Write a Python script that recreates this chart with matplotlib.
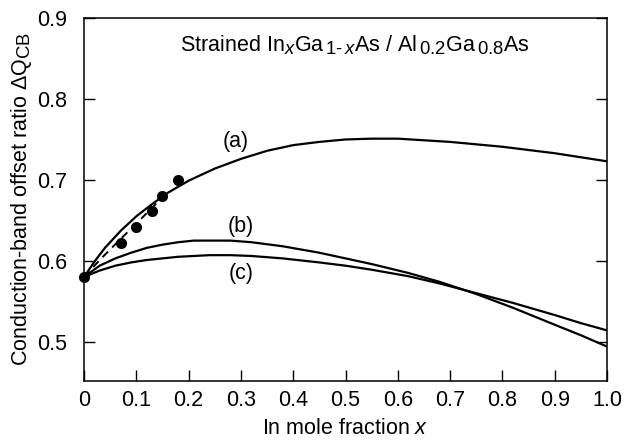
import matplotlib
matplotlib.use("Agg")
import matplotlib.pyplot as plt
import matplotlib._mathtext as mt

plt.rcParams['font.family'] = ['Liberation Sans', 'DejaVu Sans']
plt.rcParams['mathtext.fontset'] = 'custom'
plt.rcParams['mathtext.rm'] = 'Liberation Sans'
plt.rcParams['mathtext.it'] = 'Liberation Sans:italic'
# indices un peu plus gros, comme sur la figure d'origine
mt.SHRINK_FACTOR = 0.86

# courbe (a)
xa = [0, 0.02, 0.04, 0.07, 0.10, 0.13, 0.16, 0.20, 0.25, 0.30, 0.35, 0.40, 0.45, 0.50, 0.55, 0.60,
      0.65, 0.70, 0.75, 0.80, 0.85, 0.90, 0.95, 1.0]
ya = [0.58, 0.599, 0.616, 0.637, 0.655, 0.670, 0.684, 0.699, 0.714, 0.726, 0.736, 0.743, 0.747, 0.750,
      0.751, 0.751, 0.749, 0.747, 0.744, 0.741, 0.737, 0.733, 0.728, 0.723]

# courbe (b)
xb = [0, 0.03, 0.06, 0.09, 0.12, 0.15, 0.18, 0.21, 0.24, 0.28, 0.32, 0.38, 0.45, 0.50, 0.55, 0.62,
      0.68, 0.75, 0.82, 0.90, 0.95, 1.0]
yb = [0.58, 0.594, 0.603, 0.610, 0.616, 0.620, 0.623, 0.625, 0.625, 0.625, 0.623, 0.618, 0.610, 0.603,
      0.596, 0.585, 0.574, 0.559, 0.542, 0.521, 0.508, 0.494]

# courbe (c)
xc = [0, 0.03, 0.06, 0.09, 0.12, 0.15, 0.18, 0.21, 0.24, 0.28, 0.32, 0.38, 0.45, 0.50, 0.55, 0.62,
      0.68, 0.75, 0.82, 0.90, 0.95, 1.0]
yc = [0.58, 0.588, 0.594, 0.598, 0.601, 0.603, 0.605, 0.606, 0.607, 0.607, 0.606, 0.603, 0.598, 0.594,
      0.589, 0.581, 0.572, 0.560, 0.548, 0.533, 0.523, 0.514]

# ajustement en pointillés
xd = [0, 0.03, 0.07, 0.10, 0.14]
yd = [0.58, 0.601, 0.627, 0.646, 0.672]

# points expérimentaux
xp = [0, 0.07, 0.10, 0.13, 0.15, 0.18]
yp = [0.58, 0.622, 0.642, 0.661, 0.68, 0.70]

xticks = [0, 0.1, 0.2, 0.3, 0.4, 0.5, 0.6, 0.7, 0.8, 0.9, 1.0]
xticklabels = ["0", "0.1", "0.2", "0.3", "0.4", "0.5", "0.6", "0.7", "0.8", "0.9", "1.0"]
yticks = [0.5, 0.6, 0.7, 0.8, 0.9]
yticklabels = ["0.5", "0.6", "0.7", "0.8", "0.9"]

fig = plt.figure(figsize=(6.24, 4.42), dpi=100)
ax = fig.add_axes([0.1346, 0.139, 0.8382, 0.820])

lw = 1.6
ax.plot(xa, ya, color='black', lw=lw)
ax.plot(xb, yb, color='black', lw=lw)
ax.plot(xc, yc, color='black', lw=lw)
ax.plot(xd, yd, color='black', lw=1.4, ls=(0, (4, 3)))
ax.plot(xp, yp, 'o', color='black', ms=7, clip_on=False, zorder=5)

fs = 15.5
ax.text(0.29, 0.748, "(a)", fontsize=fs, ha='center', va='center')
ax.text(0.30, 0.642, "(b)", fontsize=fs, ha='center', va='center')
ax.text(0.30, 0.584, "(c)", fontsize=fs, ha='center', va='center')
ax.text(0.518, 0.867,
        r"Strained In$_{\mathit{x}}$Ga$_{\,\mathit{1\text{-}\,x}}$As / Al$_{\,0.2}$Ga$_{\,0.8}$As",
        fontsize=fs, ha='center', va='center')

ax.set_xlim(0, 1.0)
ax.set_ylim(0.452, 0.9)
ax.set_xticks(xticks)
ax.set_xticklabels(xticklabels)
ax.set_yticks(yticks)
ax.set_yticklabels(yticklabels)
ax.tick_params(direction='in', length=8, width=1, labelsize=fs, right=True, top=False)
ax.tick_params(axis='x', pad=7)
ax.tick_params(axis='y', pad=12)
for s in ax.spines.values():
    s.set_linewidth(1.1)

ax.set_xlabel(r"In mole fraction $\mathit{x}$", fontsize=fs, labelpad=5)
ax.set_ylabel(r"Conduction-band offset ratio $\Delta$Q$_{\mathrm{CB}}$", fontsize=fs, labelpad=2)

fig.savefig("out.png", dpi=100)
